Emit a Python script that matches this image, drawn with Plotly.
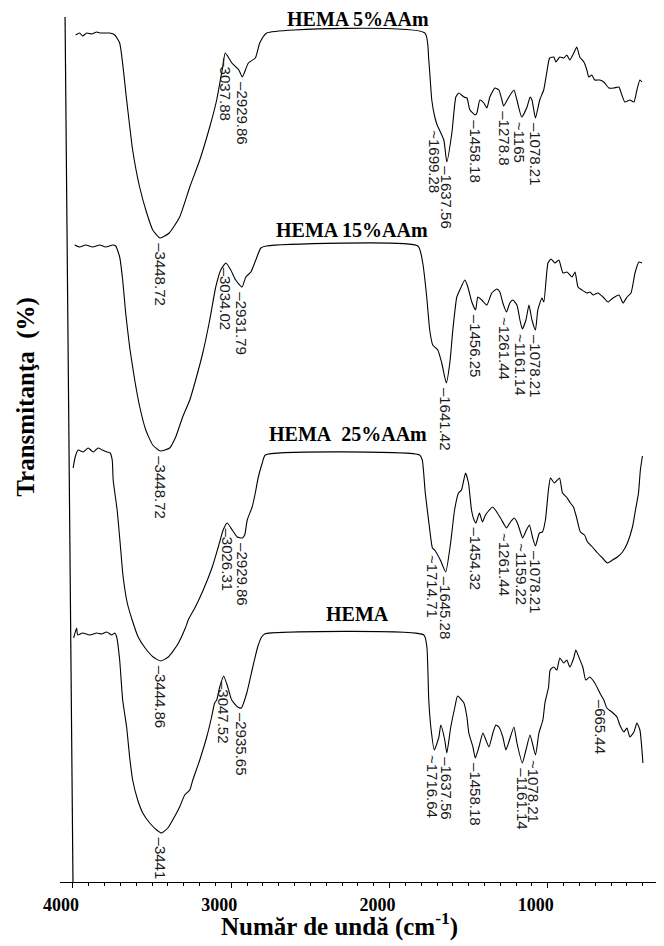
import numpy as np
import plotly.graph_objects as go

# wavenumber (cm-1) and transmittance (offset, a.u.)

# HEMA 5%AAm
wn_5 = [3983, 3958, 3939, 3913, 3882, 3850, 3831, 3799, 3768, 3736, 3705, 3661, 3623, 3579, 3534,
        3496, 3449, 3392, 3326, 3262, 3199, 3136, 3092, 3054, 3038, 2996, 2952, 2930, 2892, 2848,
        2820, 2776, 1777, 1752, 1733, 1714, 1699, 1657, 1638, 1606, 1581, 1562, 1530, 1511, 1492,
        1458, 1448, 1429, 1404, 1385, 1366, 1334, 1309, 1290, 1279, 1246, 1214, 1195, 1165, 1131,
        1112, 1100, 1078, 1051, 1026, 1007, 988, 962, 949, 924, 899, 880, 861, 836, 817, 798, 772,
        753, 741, 722, 703, 671, 646, 614, 583, 551, 532, 513, 481, 456, 437, 418, 406]
t_5 = [84.7, 84.9, 84.6, 84.9, 84.8, 85.0, 84.9, 84.9, 84.9, 84.7, 83.9, 78.2, 73.2, 69.5, 66.9,
       65.2, 64.4, 64.9, 66.5, 69.5, 72.2, 75.5, 78.2, 81.5, 82.9, 81.9, 81.2, 80.5, 81.9, 82.4,
       83.9, 84.9, 84.9, 82.2, 78.2, 76.5, 75.7, 74.2, 72.0, 74.9, 78.5, 78.9, 78.5, 78.4, 77.2,
       76.7, 76.9, 78.2, 77.9, 77.4, 78.5, 79.4, 79.2, 78.2, 77.6, 78.5, 79.2, 78.2, 76.5, 77.5,
       78.5, 78.2, 76.4, 78.2, 79.2, 80.9, 82.4, 82.5, 82.0, 82.5, 82.4, 82.7, 82.2, 82.9, 83.5,
       82.5, 82.0, 81.2, 80.5, 80.7, 80.2, 80.2, 80.0, 79.4, 79.4, 79.5, 78.7, 78.0, 78.2, 78.0,
       79.2, 80.2, 80.0]
peaks_5 = [3448.72, 3037.88, 2929.86, 1699.28, 1637.56, 1458.18, 1278.8, 1165, 1078.21]
labels_5 = ["–3448.72", "–3037.88", "–2929.86", "~1699.28", "–1637.56", "–1458.18", "–1278.8",
            "~1165", "–1078.21"]

# HEMA 15%AAm
wn_15 = [3989, 3958, 3920, 3875, 3831, 3793, 3749, 3730, 3705, 3686, 3667, 3642, 3610, 3578, 3540,
         3496, 3449, 3389, 3351, 3307, 3262, 3225, 3180, 3136, 3098, 3066, 3034, 3003, 2972, 2932,
         2908, 2876, 2845, 2813, 2778, 1821, 1790, 1765, 1746, 1727, 1695, 1670, 1641, 1619, 1600,
         1575, 1556, 1524, 1505, 1480, 1456, 1442, 1417, 1385, 1354, 1322, 1303, 1284, 1261, 1240,
         1221, 1195, 1176, 1161, 1138, 1119, 1100, 1078, 1063, 1037, 1025, 999, 980, 955, 930, 904,
         879, 847, 828, 809, 784, 752, 733, 714, 683, 651, 619, 588, 550, 525, 499, 474, 449, 424, 405]
t_15 = [63.7, 63.5, 63.7, 63.5, 63.7, 63.5, 63.7, 63.6, 62.5, 60.2, 56.9, 53.5, 50.2, 47.5, 45.2,
        43.7, 43.1, 43.4, 44.5, 46.5, 48.2, 50.2, 52.9, 56.2, 59.5, 61.2, 61.9, 61.2, 60.2, 59.5,
        60.5, 61.0, 62.2, 63.4, 63.6, 63.6, 61.9, 58.5, 55.2, 53.7, 53.2, 51.9, 49.9, 51.9, 55.2,
        58.5, 59.2, 60.2, 59.5, 58.0, 57.2, 58.5, 58.2, 57.7, 58.9, 59.3, 59.0, 57.9, 57.0, 57.9,
        58.2, 57.7, 56.2, 55.3, 56.2, 57.7, 56.2, 55.2, 57.2, 58.4, 58.0, 61.9, 62.3, 61.9, 62.2,
        60.9, 61.0, 60.5, 61.0, 59.5, 59.2, 58.9, 59.0, 58.7, 58.9, 58.5, 58.0, 58.4, 58.7, 57.9,
        58.5, 58.9, 60.9, 62.0, 61.9]
peaks_15 = [3448.72, 3034.02, 2931.79, 1641.42, 1456.25, 1261.44, 1161.14, 1078.21]
labels_15 = ["–3448.72", "–3034.02", "–2931.79", "–1641.42", "–1456.25", "~1261.44", "~1161.14",
             "–1078.21"]

# HEMA 25%AAm
wn_25 = [3999, 3986, 3967, 3936, 3904, 3872, 3841, 3815, 3784, 3765, 3752, 3746, 3721, 3702, 3683,
         3657, 3626, 3588, 3544, 3493, 3445, 3398, 3341, 3290, 3272, 3227, 3177, 3120, 3082, 3051,
         3026, 2994, 2962, 2930, 2915, 2899, 2868, 2848, 2829, 2804, 2785, 1810, 1793, 1774, 1748,
         1729, 1715, 1679, 1645, 1614, 1589, 1564, 1545, 1520, 1501, 1482, 1466, 1454, 1432, 1413,
         1394, 1369, 1350, 1331, 1299, 1274, 1261, 1236, 1211, 1192, 1173, 1159, 1135, 1116, 1097,
         1078, 1053, 1034, 1015, 996, 983, 958, 926, 907, 882, 857, 838, 819, 794, 768, 749, 718,
         686, 654, 623, 591, 560, 528, 497, 465, 446, 427, 415, 402]
t_25 = [41.4, 42.5, 43.2, 43.0, 43.4, 43.0, 43.4, 43.2, 43.0, 42.9, 42.2, 40.2, 37.2, 33.9, 30.5,
        27.9, 26.2, 24.5, 23.4, 22.5, 22.1, 22.5, 23.7, 25.4, 26.2, 27.5, 29.2, 31.5, 33.5, 35.2,
        35.9, 35.2, 34.5, 34.4, 34.7, 36.2, 37.5, 38.9, 40.5, 41.9, 42.7, 42.7, 42.2, 38.9, 35.5,
        33.4, 33.2, 32.2, 31.0, 33.9, 37.2, 38.9, 39.2, 40.9, 39.9, 37.2, 36.2, 35.9, 36.9, 36.0,
        36.7, 37.2, 37.5, 37.2, 36.4, 35.7, 35.4, 36.0, 36.4, 35.9, 35.0, 34.4, 35.2, 35.7, 34.5,
        33.6, 34.9, 35.0, 36.2, 39.2, 40.4, 39.9, 40.4, 38.9, 38.5, 37.9, 37.5, 36.5, 35.0, 34.7,
        34.0, 33.5, 32.9, 32.4, 31.9, 32.2, 32.5, 33.0, 33.9, 35.5, 37.2, 38.9, 41.2, 42.6]
peaks_25 = [3444.86, 3026.31, 2929.86, 1714.71, 1645.28, 1454.32, 1261.44, 1159.22, 1078.21]
labels_25 = ["–3444.86", "–3026.31", "–2929.86", "~1714.71", "–1645.28", "–1454.32", "~1261.44",
             "~1159.22", "–1078.21"]

# HEMA
wn_0 = [3996, 3977, 3970, 3939, 3894, 3850, 3819, 3787, 3755, 3736, 3724, 3705, 3686, 3661, 3642,
        3623, 3591, 3559, 3515, 3471, 3441, 3401, 3370, 3326, 3294, 3262, 3243, 3199, 3155, 3124,
        3105, 3092, 3073, 3048, 3022, 2997, 2959, 2936, 2902, 2864, 2833, 2808, 2789, 1783, 1764,
        1752, 1739, 1717, 1688, 1676, 1651, 1638, 1613, 1587, 1570, 1530, 1511, 1499, 1473, 1458,
        1435, 1410, 1391, 1372, 1347, 1328, 1309, 1284, 1265, 1246, 1214, 1195, 1161, 1138, 1112,
        1078, 1056, 1031, 1018, 995, 985, 962, 943, 924, 899, 880, 861, 836, 823, 804, 779, 760,
        735, 703, 671, 646, 627, 595, 563, 545, 519, 500, 481, 456, 437, 418, 399]
t_0 = [24.4, 25.4, 24.7, 24.9, 24.7, 24.9, 24.8, 25.0, 24.7, 24.9, 24.5, 22.2, 18.2, 15.5, 12.5,
       10.2, 8.2, 6.9, 5.9, 5.2, 4.9, 5.4, 6.2, 7.5, 8.7, 9.2, 10.2, 12.2, 14.5, 16.5, 17.9, 18.2,
       19.5, 20.6, 19.5, 18.2, 17.5, 17.4, 18.9, 21.5, 23.5, 24.5, 24.8, 24.7, 23.5, 18.2, 15.5,
       13.2, 14.5, 15.7, 14.2, 12.9, 15.5, 17.5, 18.6, 17.9, 16.5, 14.9, 13.5, 12.4, 13.5, 14.9,
       14.2, 13.5, 14.9, 15.7, 15.5, 14.5, 13.2, 14.0, 15.5, 13.9, 11.9, 13.2, 14.7, 12.7, 14.9,
       16.2, 17.9, 19.5, 21.2, 21.5, 21.2, 22.4, 21.9, 22.2, 21.5, 22.4, 23.2, 22.5, 21.5, 20.2,
       20.5, 19.9, 18.9, 18.2, 17.4, 17.0, 16.5, 15.7, 15.0, 15.4, 14.5, 15.0, 15.9, 15.2, 11.9]
peaks_0 = [3441, 3047.52, 2935.65, 1716.64, 1637.56, 1458.18, 1161.14, 1078.21, 665.44]
labels_0 = ["–3441", "–3047.52", "–2935.65", "~1716.64", "–1637.56", "–1458.18", "–1161.14",
            "~1078.21", "–665.44"]

names = ["HEMA 5%AAm", "HEMA 15%AAm", "HEMA\u00a0 25%AAm", "HEMA"]

spectra = [(wn_5, t_5, peaks_5, labels_5),
           (wn_15, t_15, peaks_15, labels_15),
           (wn_25, t_25, peaks_25, labels_25),
           (wn_0, t_0, peaks_0, labels_0)]

# where the sample names sit (paper coords)
name_pos = [(0.499, 0.998), (0.489, 0.754), (0.482, 0.518), (0.4975, 0.310)]

serif = "Liberation Serif, Times New Roman, serif"
sans = "Liberation Sans, Arial, sans-serif"

fig = go.Figure()

for (wn, t, pk, lb), name, (nx, ny) in zip(spectra, names, name_pos):
    fig.add_trace(go.Scatter(
        x=wn, y=t, mode="lines", name=name, showlegend=False, hoverinfo="skip",
        line=dict(color="black", width=1.1, shape="spline", smoothing=0.5),
    ))
    wa = np.array(wn, dtype=float)[::-1]
    ta = np.array(t, dtype=float)[::-1]
    for p, s in zip(pk, lb):
        fig.add_annotation(
            x=p, y=float(np.interp(p, wa, ta)), text=s, textangle=90,
            showarrow=False, xanchor="center", yanchor="top",
            yshift=-3, xshift=-2 if s.startswith("~") else 0,
            font=dict(family=sans, size=15, color="#1a1a1a"),
        )
    fig.add_annotation(
        x=nx, y=ny, xref="paper", yref="paper", text=name,
        showarrow=False, xanchor="center", yanchor="middle",
        font=dict(family=serif, size=20, color="black", weight="bold"),
    )

# axis titles
fig.add_annotation(
    x=0.469, y=-0.049, xref="paper", yref="paper",
    text="Număr de undă (cm<sup>-1</sup>)", showarrow=False,
    xanchor="center", yanchor="middle",
    font=dict(family=serif, size=25, color="black", weight="bold"),
)
fig.add_annotation(
    x=-0.057, y=0.561, xref="paper", yref="paper",
    text="Transmitanţa\u00a0 (%)", textangle=-90, showarrow=False,
    xanchor="center", yanchor="middle",
    font=dict(family=serif, size=25, color="black", weight="bold"),
)

# the (slightly slanted) left axis line of the original
fig.add_shape(type="line", xref="x", yref="paper", x0=4050, y0=1, x1=4000, y1=0,
              line=dict(color="black", width=1.2))

# the page body adds 8px around the figure, so the figure is 8px smaller each way
fig.update_layout(
    width=656, height=938,
    margin=dict(l=52, r=7, t=9, b=64),
    paper_bgcolor="white", plot_bgcolor="white",
    xaxis=dict(
        range=[4082, 310], showgrid=False, zeroline=False,
        showline=True, linecolor="black", linewidth=1.2,
        ticks="outside", ticklen=5, tickwidth=1.2, tickcolor="black",
        tick0=0, dtick=1000,
        minor=dict(ticks="outside", dtick=100, ticklen=3, tickcolor="black", showgrid=False),
        tickfont=dict(family=serif, size=18, color="black", weight="bold"),
        ticklabelshift=12, ticklabelstandoff=1,
    ),
    yaxis=dict(range=[0, 86.5], visible=False, showgrid=False, zeroline=False),
)

fig.write_html("out.html")
